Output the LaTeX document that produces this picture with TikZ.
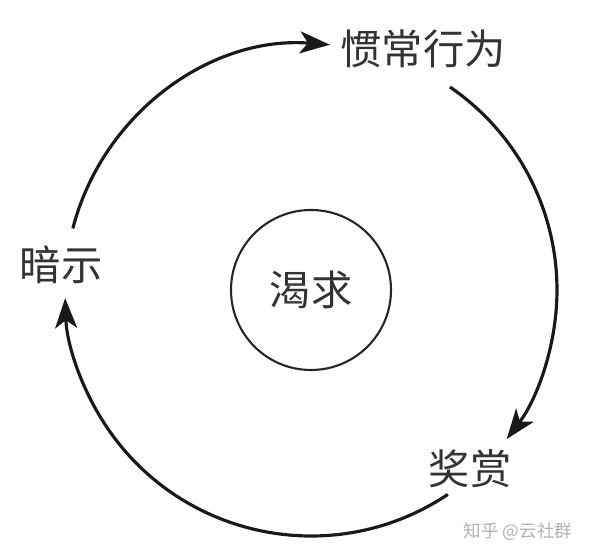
\documentclass[tikz,border=0pt]{standalone}
\usepackage{fontspec}
\newfontfamily\cjk{Noto Sans CJK SC}
\usepackage{tikz}
\usetikzlibrary{arrows.meta, positioning}

\begin{document}
\begin{tikzpicture}[
    >={Stealth[length=6mm, width=4.4mm, inset=1.6mm]},
    stagetext/.style={font=\cjk\fontsize{23.5}{28}\selectfont, inner sep=0pt, text=black!80},
    core/.style={circle, draw=black!85, line width=1.2pt, minimum size=3.2cm,
                 inner sep=0pt, font=\cjk\fontsize{23.5}{28}\selectfont, text=black!80},
    loopedge/.style={->, line width=1.8pt, black!90},
    watermark/.style={font=\cjk\fontsize{10}{12}\selectfont, text=black!30, inner sep=0pt},
]

\useasboundingbox (0, 0) rectangle (12, 11.14);

% ============================================================
% CENTRE
% ============================================================
\node[core] (want) at (6.22, 5.34) {渴求};

% ============================================================
% STAGES (round the loop)
% ============================================================
\node[stagetext] (habit)  at (8.46, 10.16) {惯常行为};
\node[stagetext] (cue)    at (1.22, 5.84)  {暗示};
\node[stagetext] (reward) at (9.40, 1.76)  {奖赏};

% ============================================================
% LOOP ARROWS (arcs of one circle round the centre)
% ============================================================
% cue -> habit
\draw[loopedge] ([shift={(165.5:4.92)}]want.center)
    arc[start angle=165.5, end angle=85.6, radius=4.92];
% habit -> reward
\draw[loopedge] ([shift={(55.6:4.92)}]want.center)
    arc[start angle=55.6, end angle=-37.3, radius=4.92];
% reward -> cue
\draw[loopedge] ([shift={(-56.2:4.92)}]want.center)
    arc[start angle=-56.2, end angle=-178.1, radius=4.92];

% watermark
\node[watermark] (credit) at (10.36, 0.50) {知乎 @云社群};

\end{tikzpicture}
\end{document}
